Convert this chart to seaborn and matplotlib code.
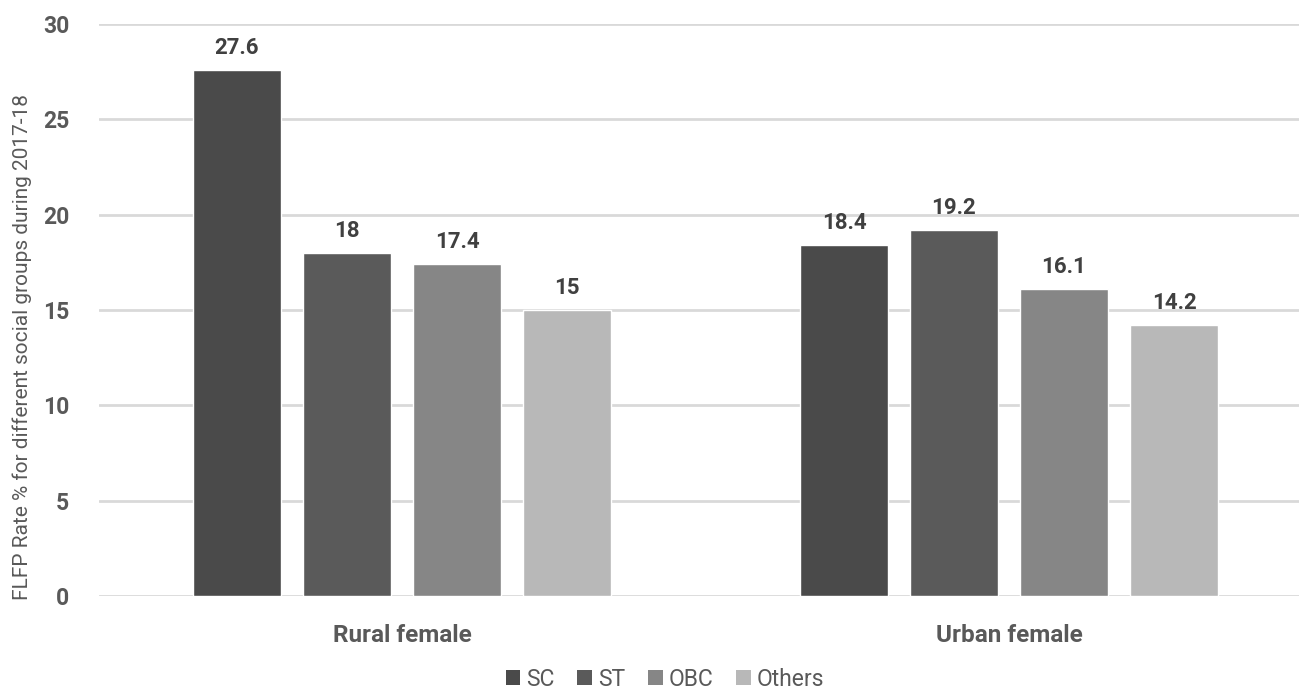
import matplotlib
matplotlib.use("Agg")
import matplotlib.pyplot as plt
from matplotlib.patches import Patch
import seaborn as sns
import pandas as pd

# FLFP rates (%) by social group, 2017-18
areas = ["Rural female", "Urban female"]
groups = ["SC", "ST", "OBC", "Others"]
rural_values = [27.6, 18.0, 17.4, 15.0]
urban_values = [18.4, 19.2, 16.1, 14.2]
y_ticks = [0, 5, 10, 15, 20, 25, 30]
colors = ["#4a4a4a", "#5a5a5a", "#868686", "#b8b8b8"]

df = pd.DataFrame({
    "area": [areas[0]] * 4 + [areas[1]] * 4,
    "group": groups * 2,
    "value": rural_values + urban_values,
})

sns.set_style("white")
plt.rcParams["font.family"] = ["Roboto", "DejaVu Sans"]

fig = plt.figure(figsize=(12.99, 6.88), dpi=100)
ax = fig.add_axes([98.5 / 1299, 1 - 596 / 688, (1299 - 98.5) / 1299, (596 - 24) / 688])

sns.barplot(data=df, x="area", y="value", hue="group", order=areas,
            hue_order=groups, palette=colors, width=0.725, gap=0.2,
            saturation=1, legend=False, ax=ax, zorder=3)

for cont in ax.containers:
    ax.bar_label(cont, fmt="{:g}", padding=8, fontsize=16, fontweight="bold",
                 color="#404040", zorder=4)

ax.set_xlim(-0.5, -0.5 + (1299 - 98.5) / 607)
ax.set_ylim(0, 30)
ax.set_yticks(y_ticks)
ax.yaxis.grid(True, color="#d9d9d9", linewidth=2)
ax.set_axisbelow(True)
for s in ax.spines.values():
    s.set_visible(False)

ax.tick_params(axis="both", length=0, labelcolor="#595959")
ax.tick_params(axis="y", pad=21, labelsize=16.5)
ax.tick_params(axis="x", pad=20, labelsize=17.5)
for lbl in ax.get_xticklabels() + ax.get_yticklabels():
    lbl.set_fontweight("bold")

ax.set_xlabel("")
ax.set_ylabel("FLFP Rate % for different social groups during 2017-18",
              fontsize=15, color="#595959")
ax.yaxis.label.set_va("center")
ax.yaxis.set_label_coords((22 - 98.5) / 1200.5, (596 - 347) / 572)

handles = [Patch(facecolor=c, edgecolor="none") for c in colors]
fig.legend(handles, groups, loc="center", bbox_to_anchor=(665 / 1299, 1 - 679 / 688),
           ncol=4, frameon=False, fontsize=16.5, labelcolor="#595959",
           handlelength=0.65, handleheight=0.65, handletextpad=0.25,
           columnspacing=1.0, borderpad=0)

fig.savefig("out.png", dpi=100)
